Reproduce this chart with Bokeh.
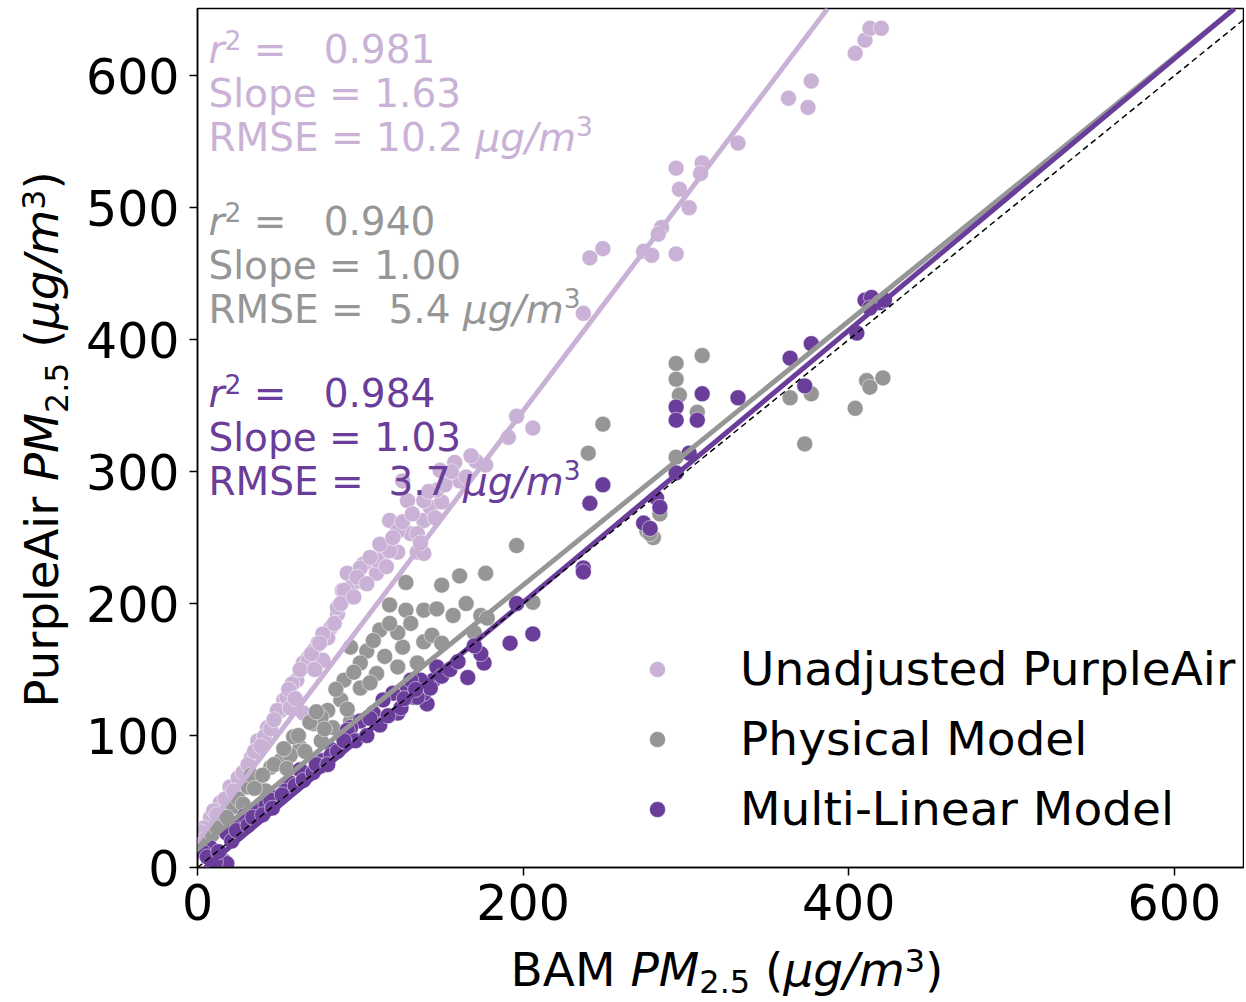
import numpy as np
from bokeh.plotting import figure
from bokeh.layouts import row, column
from bokeh.models import Range1d, FixedTicker, Slope, Label, Legend, LegendItem
from bokeh.embed import file_html
from bokeh.resources import INLINE

# ---------------- data ----------------
unadj_x = [404, 410, 413, 420, 363, 375, 377, 332, 294, 310, 309, 296, 302, 285, 283, 274, 279, 294, 241, 249,
           237, 196, 206, 191, 177, 118, 131, 139, 143, 150, 146, 135, 123, 114, 102, 92, 89, 94, 100, 110,
           86, 82, 80, 74, 68, 65, 61, 58, 53, 51, 65, 126, 139, 129, 123, 135, 139, 118, 110, 100,
           90, 86, 77, 71, 68, 55, 49, 43, 37, 33, 26, 20, 14, 8, 4, 77, 57, 41, 25, 10,
           158, 171, 149, 147, 161, 2, 5,
           12, 17, 22, 28, 31, 35, 39, 45, 47, 56, 60, 63, 70, 72, 75, 84, 88, 96, 98, 104,
           106, 112, 116, 120, 126, 132, 137, 142, 152, 156, 165, 168]
unadj_y = [617, 627, 636, 636, 583, 576, 596, 549, 530, 534, 526, 514, 500, 485, 480, 467, 464, 465, 462, 469,
           420, 342, 333, 326, 305, 263, 253, 263, 273, 277, 265, 239, 239, 238, 230, 223, 210, 212, 217, 223,
           192, 182, 174, 170, 159, 155, 142, 139, 127, 119, 117, 293, 278, 278, 255, 253, 238, 240, 233, 227,
           210, 197, 177, 164, 157, 129, 119, 106, 96, 83, 68, 61, 49, 38, 30, 157, 121, 99, 68, 43,
           307, 308, 301, 286, 293, 27, 22,
           40, 52, 58, 72, 78, 88, 92, 105, 112, 135, 128, 150, 162, 150, 170, 185, 200, 205, 220, 215,
           235, 245, 228, 250, 262, 268, 246, 285, 290, 300, 296, 312]

phys_x = [411, 413, 421, 404, 373, 364, 377, 310, 294, 294, 296, 307, 294, 249, 240, 196, 177, 276, 280, 284,
          278, 206, 150, 128, 128, 139, 147, 157, 174, 178, 126, 139, 135, 118, 112, 123, 94, 104, 100, 90,
          100, 110, 123, 88, 80, 71, 83, 76, 69, 63, 51, 37, 31, 22, 14, 6, 2, 45, 59, 161,
          33, 57, 42, 76, 94,
          4, 9, 12, 18, 25, 28, 35, 40, 47, 53, 55, 62, 66, 73, 78, 85, 92, 96, 106, 108,
          115, 118, 131, 144, 150, 165, 170]
phys_y = [369, 364, 371, 348, 321, 356, 359, 388, 382, 370, 358, 345, 311, 336, 314, 244, 223, 255, 250, 268,
          253, 201, 214, 216, 195, 195, 196, 191, 191, 189, 167, 171, 155, 199, 180, 178, 167, 164, 155, 142,
          136, 147, 152, 127, 119, 109, 106, 114, 110, 91, 81, 66, 61, 46, 33, 23, 15, 76, 99, 221,
          70, 85, 58, 96, 111,
          18, 25, 30, 38, 52, 48, 60, 70, 78, 90, 75, 100, 88, 118, 105, 135, 120, 148, 140, 172,
          160, 185, 185, 176, 170, 200, 178]

mlr_x = [410, 414, 419, 413, 422, 405, 377, 364, 373, 332, 310, 294, 294, 307, 302, 294, 249, 241, 282, 284,
         274, 278, 237, 237, 196, 206, 192, 176, 174, 166, 149, 145, 137, 129, 133, 141, 139, 147, 131, 120,
         114, 108, 100, 94, 123, 135, 143, 92, 83, 77, 68, 57, 49, 37, 26, 18, 8, 4, 16, 18,
         11, 76, 63, 42, 29, 97, 112, 82, 54, 45,
         6, 13, 21, 24, 31, 34, 40, 46, 52, 60, 65, 71, 73, 80, 86, 90, 104, 106, 117, 125,
         127, 134, 150, 155, 160, 170]
mlr_y = [430, 432, 428, 424, 430, 405, 397, 386, 365, 356, 359, 349, 339, 339, 314, 299, 290, 276, 280, 273,
         261, 257, 227, 224, 200, 177, 170, 155, 162, 144, 147, 142, 142, 136, 129, 124, 132, 152, 142, 132,
         127, 117, 111, 106, 117, 129, 136, 104, 89, 81, 71, 64, 53, 43, 33, 26, 15, 11, 5, 3,
         4, 77, 74, 47, 39, 96, 108, 85, 58, 51,
         8, 12, 20, 28, 32, 38, 40, 45, 55, 62, 66, 72, 78, 78, 88, 96, 100, 113, 115, 121,
         128, 135, 145, 150, 156, 168]

series_names = ["Unadjusted PurpleAir", "Physical Model", "Multi-Linear Model"]
series_colors = ["#cab2d6", "#969696", "#6a3d9a"]
fit_slopes = [1.63, 1.00, 1.03]
fit_intercepts = [20, 14, -5]
stat_r2 = ["0.981", "0.940", "0.984"]
stat_slope = ["1.63", "1.00", "1.03"]
stat_rmse = ["10.2", " 5.4", " 3.7"]
x_ticks = [0, 200, 400, 600]
y_ticks = [0, 100, 200, 300, 400, 500, 600]

# ---------------- layout constants (pixels) ----------------
FONT = "DejaVu Sans"
LEFT_W = 80          # width of the y-label strip
TOTAL_W = 1244
MAIN_H = 939
BOTTOM_H = 62
NB = "\u00a0"
MID = 0.35           # label anchor sits at the text box middle, not the baseline

# ---------------- main figure ----------------
p = figure(width=TOTAL_W - LEFT_W, height=MAIN_H, x_range=Range1d(0, 642.5), y_range=Range1d(0, 651),
           output_backend="svg", toolbar_location=None,
           min_border_left=197 - LEFT_W, min_border_right=1, min_border_top=8,
           min_border_bottom=MAIN_H - 867)
p.grid.visible = False
p.outline_line_color = "black"
p.outline_line_width = 1.5
p.background_fill_color = "white"
p.border_fill_color = "white"

for ax, ticks in ((p.xaxis, x_ticks), (p.yaxis, y_ticks)):
    ax.ticker = FixedTicker(ticks=ticks)
    ax.major_label_text_font = FONT
    ax.major_label_text_font_size = "49px"
    ax.major_label_text_color = "black"
    ax.major_tick_out = 8
    ax.major_tick_in = 0
    ax.minor_tick_out = 0
    ax.minor_tick_in = 0
    ax.axis_line_width = 1.5
    ax.major_tick_line_width = 1.5
p.xaxis.major_label_standoff = 8
p.yaxis.major_label_standoff = 10

renderers = []
for xs, ys, col in ((unadj_x, unadj_y, series_colors[0]),
                    (phys_x, phys_y, series_colors[1]),
                    (mlr_x, mlr_y, series_colors[2])):
    r = p.scatter(x=xs, y=ys, size=16, marker="circle", fill_color=col,
                  line_color="white", line_width=0.5)
    renderers.append(r)

for m, b, col in zip(fit_slopes, fit_intercepts, series_colors):
    p.add_layout(Slope(gradient=m, y_intercept=b, line_color=col, line_width=5))
p.add_layout(Slope(gradient=1, y_intercept=0, line_color="black", line_width=1.5, line_dash="6 4"))

# ---------------- rich text helper ----------------
W = {' ': 0.318, NB: 0.318, '=': 0.838, '.': 0.318, 'R': 0.695, 'M': 0.863, 'S': 0.635, 'E': 0.632,
     'l': 0.278, 'o': 0.612, 'p': 0.635, 'e': 0.615, 'B': 0.686, 'A': 0.684, 'P': 0.603, 'u': 0.634,
     'r': 0.411, 'i': 0.278, '(': 0.390, ')': 0.390, 'μ': 0.636, 'g': 0.635, '/': 0.337, 'm': 0.974}
for d in "0123456789":
    W[d] = 0.636


def rich(fig, parts, ax, ay, ox, oy, size, color, angle=0.0, sup_shift=0.36, sub_drop=0.2):
    pos = 0.0
    for text, kind in parts:
        s = size
        shift = 0.0
        style = "normal"
        if kind == "i":
            style = "italic"
        elif kind == "sup":
            s = size * 0.68
            shift = size * sup_shift
        elif kind == "sub":
            s = size * 0.68
            shift = -size * sub_drop
        shift += MID * s
        if angle == 0:
            xo, yo = ox + pos, oy + shift
        else:
            xo, yo = ox - shift, oy + pos
        fig.add_layout(Label(x=ax, y=ay, x_offset=xo, y_offset=yo, text=text.replace(" ", NB),
                             text_font=FONT, text_font_style=style, text_font_size=f"{s:.1f}px",
                             text_color=color, text_align="left", text_baseline="alphabetic",
                             angle=angle))
        pos += sum(W.get(c, 0.6) for c in text) * s


# statistics annotations (offsets in px from the frame's lower-left corner)
for i in range(3):
    col = series_colors[i]
    rich(p, [("r", "i"), ("2", "sup"), (" =   " + stat_r2[i], "n")], 0, 0, 11, 804 - 172 * i, 39, col)
    rich(p, [("Slope = " + stat_slope[i], "n")], 0, 0, 11, 760 - 172 * i, 39, col)
    rich(p, [("RMSE = " + stat_rmse[i] + " ", "n"), ("μg/m", "i"), ("3", "sup")], 0, 0, 11,
         716 - 172 * i, 39, col, sup_shift=0.42)

# legend
legend = Legend(items=[LegendItem(label=n, renderers=[r]) for n, r in zip(series_names, renderers)],
                location=(440, 31), label_text_font=FONT, label_text_font_size="47px",
                label_text_color="black",
                glyph_width=40, glyph_height=40, label_height=40, label_standoff=63,
                spacing=15, padding=0, margin=0, border_line_color=None, background_fill_alpha=0)
p.add_layout(legend, "center")


def strip(w, h):
    f = figure(width=w, height=h, x_range=Range1d(0, w), y_range=Range1d(0, h),
               output_backend="svg", toolbar_location=None, min_border=0,
               x_axis_type=None, y_axis_type=None)
    f.outline_line_color = None
    f.background_fill_color = "white"
    f.border_fill_color = "white"
    return f


# y-axis label strip (rotated)
ly = strip(LEFT_W, MAIN_H)
rich(ly, [("PurpleAir ", "n"), ("PM", "i"), ("2.5", "sub"), (" (", "n"), ("μg/m", "i"), ("3", "sup"),
          (")", "n")], 58, MAIN_H - 708 - 56, 0, 0, 46.5, "black", angle=np.pi / 2, sup_shift=0.3)

# x-axis label strip
lx = strip(TOTAL_W, BOTTOM_H)
rich(lx, [("BAM ", "n"), ("PM", "i"), ("2.5", "sub"), (" (", "n"), ("μg/m", "i"), ("3", "sup"),
          (")", "n")], 510, 16, 0, 0, 47, "black", sup_shift=0.3, sub_drop=0.15)

layout = column(row(ly, p), lx)
open("out.html", "w").write(file_html(layout, INLINE))
